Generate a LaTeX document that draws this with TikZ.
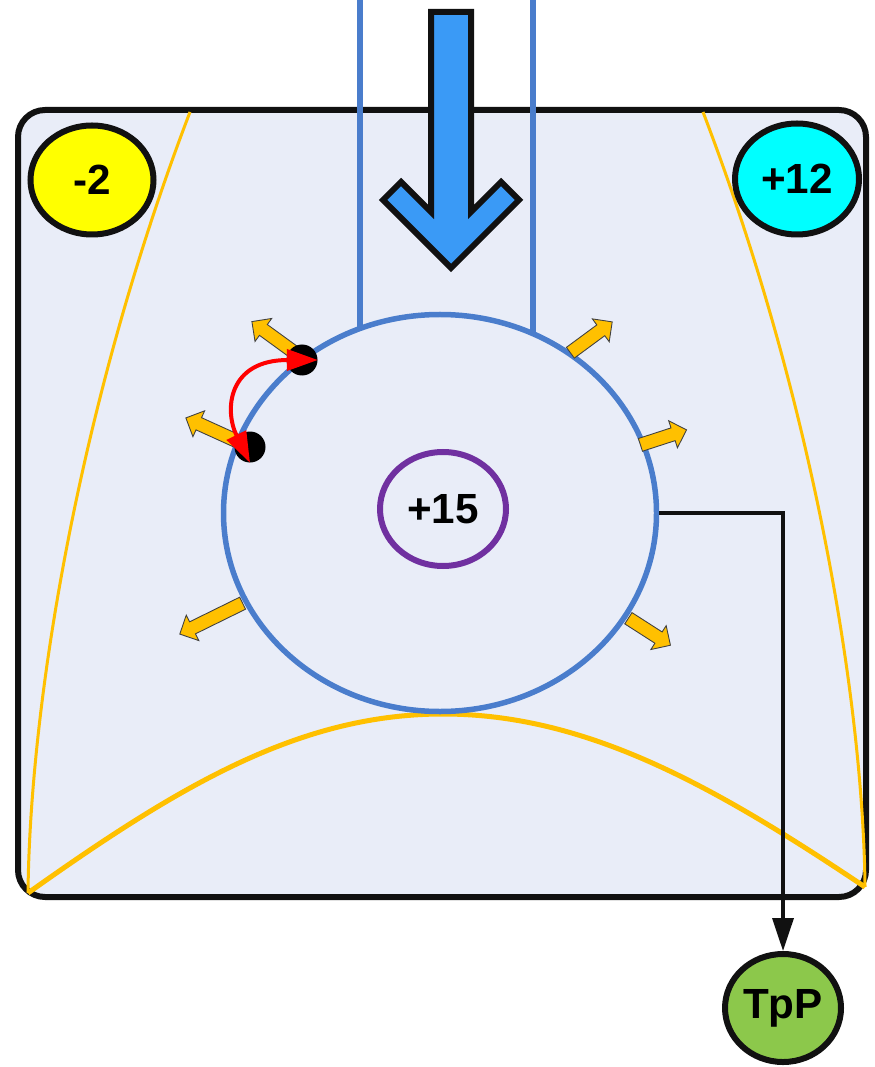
\documentclass[tikz,border=0pt]{standalone}
\usepackage{fontspec}
\setmainfont{Liberation Sans}
\usetikzlibrary{arrows.meta,shapes.geometric,shapes.arrows}
\definecolor{cbox}{HTML}{E9EDF8}
\definecolor{cblue}{HTML}{4A7DCC}
\definecolor{cflow}{HTML}{3A9AF6}
\definecolor{corange}{HTML}{FFC000}
\definecolor{cyellow}{HTML}{FFFF00}
\definecolor{ccyan}{HTML}{00FFFF}
\definecolor{cgreen}{HTML}{8CC84B}
\definecolor{cpurple}{HTML}{7030A0}
\definecolor{cink}{HTML}{111111}
\tikzset{>={Triangle[length=6.6mm,width=4.2mm]},
  charge/.style={ellipse,draw=cink,line width=1.2mm,inner sep=0pt,font=\fontsize{24}{28}\selectfont\bfseries},
  pump/.style={single arrow,draw=black!75,line width=0.5pt,fill=corange,inner sep=1.25mm,minimum width=0pt,single arrow head extend=1.5mm,anchor=tail},
  gate/.style={circle,fill=black,inner sep=0pt,minimum size=6.2mm},
  wall/.style={corange,line width=0.6mm}}

\begin{document}
\begin{tikzpicture}[x=0.2mm,y=-0.2mm]
\useasboundingbox (0,0) rectangle (874,1067);

% ================= chamber =================
\draw[cink,fill=cbox,line width=1.2mm,rounded corners=5.4mm] (18,110) rectangle (866,897);
\draw[wall] (190,112) .. controls (80,400) and (30,700) .. (28,893);
\draw[wall] (703,112) .. controls (813,400) and (863,700) .. (865,887);
\draw[wall,line width=1mm] (28,893) .. controls (180,785) and (300,714) .. (443,714)
   .. controls (586,714) and (713,785) .. (865,887);

% ================= inflow tube + cell =================
\draw[cblue,line width=1.1mm] (360,0) -- (360,420);
\draw[cblue,line width=1.1mm] (533,0) -- (533,420);
\node[ellipse,draw=cblue,fill=cbox,line width=1.1mm,minimum width=86.6mm,minimum height=79.4mm] (cell) at (440,513) {};
\node[charge,draw=cpurple,minimum width=25.2mm,minimum height=22.8mm] (core) at (443,509) {+15};
\draw[cink,fill=cflow,line width=1.2mm] (431,12) -- (471,12) -- (471,212) -- (501,182) -- (519,200)
   -- (451,268) -- (383,200) -- (401,182) -- (431,212) -- cycle;

% ================= charges =================
\node[charge,fill=cyellow,minimum width=24.6mm,minimum height=21.8mm] (minus) at (92,180) {-2};
\node[charge,fill=ccyan,minimum width=24.8mm,minimum height=22.2mm] (plus) at (797,179) {+12};
\node[charge,fill=cgreen,minimum width=23.2mm,minimum height=21.6mm] (tpp) at (783,1008) {TpP};
\draw[->,cink,line width=0.7mm] (cell.east) -| (tpp.north);

% ================= outward pumps =================
\node[pump,rotate=144,minimum height=12.3mm] (p1) at (302,358) {};
\node[pump,rotate=155.6,minimum height=14mm] (p2) at (250,447) {};
\node[pump,rotate=206.2,minimum height=14mm] (p3) at (243,603) {};
\node[pump,rotate=36.4,minimum height=10.4mm] (p4) at (570,353) {};
\node[pump,rotate=18,minimum height=9.7mm] (p5) at (640,445) {};
\node[pump,rotate=-32.7,minimum height=10mm] (p6) at (628,618) {};

% gates, with the swap between them
\node[gate] (g1) at (302,360) {};
\node[gate] (g2) at (250,447) {};
\draw[red,line width=0.8mm,<->,>={Triangle[length=6.2mm,width=4.2mm]}] (g2.south) .. controls (224,410) and (228,360) .. (g1.east);

\end{tikzpicture}
\end{document}
